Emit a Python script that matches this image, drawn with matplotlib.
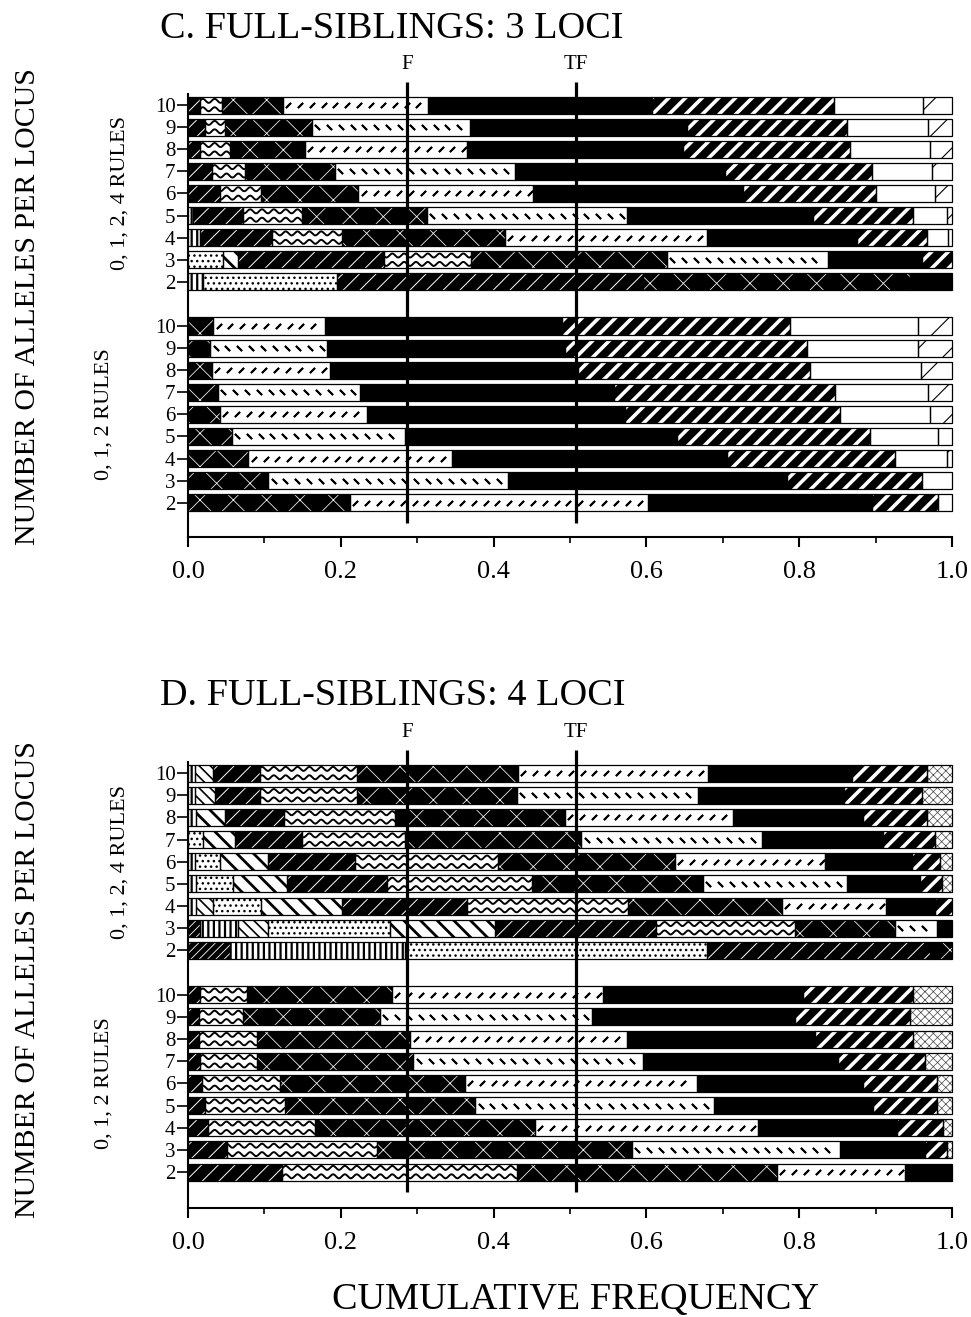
import numpy as np
import matplotlib
matplotlib.use('Agg')
from matplotlib import pyplot as plt
from matplotlib.transforms import blended_transform_factory

plt.rcParams['font.family'] = ['Liberation Serif', 'DejaVu Serif']

alleles = [10, 9, 8, 7, 6, 5, 4, 3, 2]
f_value = 0.287
tf_value = 0.508
xticks = [0.0, 0.2, 0.4, 0.6, 0.8, 1.0]

# pattern code of each segment, bar by bar (10 alleles down to 2),
# and the cumulative frequency at the right end of each segment
c4_codes = ['swxakheo', 'swxakheo', 'swxakheo', 'swxakheo', 'swxakheo',
            'vswxakheo', 'vswxakheo', 'dbswxakh', 'vdsxk']
c4_edges = [[0.016, 0.045, 0.124, 0.314, 0.607, 0.845, 0.962, 1.0],
            [0.022, 0.048, 0.162, 0.369, 0.653, 0.862, 0.969, 1.0],
            [0.016, 0.055, 0.153, 0.365, 0.648, 0.866, 0.971, 1.0],
            [0.031, 0.075, 0.192, 0.428, 0.703, 0.895, 0.974, 1.0],
            [0.042, 0.096, 0.223, 0.452, 0.727, 0.901, 0.978, 1.0],
            [0.007, 0.072, 0.149, 0.313, 0.574, 0.818, 0.949, 0.993, 1.0],
            [0.016, 0.110, 0.201, 0.415, 0.679, 0.876, 0.967, 0.995, 1.0],
            [0.046, 0.066, 0.256, 0.371, 0.627, 0.838, 0.961, 1.0],
            [0.020, 0.195, 0.596, 0.945, 1.0]]

c2_codes = ['xakheo', 'xakheo', 'xakheo', 'xakheo', 'xakheo',
            'xakheo', 'xakheo', 'xakhe', 'xakhe']
c2_edges = [[0.033, 0.179, 0.490, 0.788, 0.955, 1.0],
            [0.029, 0.182, 0.493, 0.810, 0.955, 1.0],
            [0.031, 0.186, 0.511, 0.814, 0.960, 1.0],
            [0.039, 0.225, 0.557, 0.847, 0.969, 1.0],
            [0.042, 0.234, 0.572, 0.853, 0.971, 1.0],
            [0.057, 0.284, 0.640, 0.893, 0.982, 1.0],
            [0.079, 0.345, 0.705, 0.925, 0.993, 1.0],
            [0.105, 0.419, 0.784, 0.961, 1.0],
            [0.212, 0.602, 0.895, 0.982, 1.0]]

d4_codes = ['vtswxakhc', 'vtswxakhc', 'vbswxakhc', 'dbswxakhc', 'vdbswxakhc',
            'vdbswxakhc', 'vtdbswxakh', 'fvtdbswxak', 'fvdsx']
d4_edges = [[0.009, 0.033, 0.094, 0.221, 0.432, 0.681, 0.869, 0.967, 1.0],
            [0.009, 0.035, 0.094, 0.221, 0.430, 0.668, 0.858, 0.961, 1.0],
            [0.011, 0.048, 0.125, 0.271, 0.493, 0.714, 0.884, 0.967, 1.0],
            [0.020, 0.061, 0.149, 0.284, 0.515, 0.751, 0.910, 0.978, 1.0],
            [0.009, 0.042, 0.105, 0.219, 0.406, 0.637, 0.834, 0.947, 0.984, 1.0],
            [0.011, 0.059, 0.129, 0.260, 0.450, 0.674, 0.862, 0.958, 0.987, 1.0],
            [0.011, 0.033, 0.096, 0.201, 0.365, 0.576, 0.777, 0.914, 0.978, 1.0],
            [0.016, 0.066, 0.105, 0.264, 0.402, 0.613, 0.795, 0.925, 0.980, 1.0],
            [0.055, 0.284, 0.679, 0.971, 1.0]]

d2_codes = ['swxakhc', 'swxakhc', 'swxakhc', 'swxakhc', 'swxakhc',
            'swxakhc', 'swxakhc', 'swxakhc', 'swxak']
d2_edges = [[0.016, 0.077, 0.267, 0.543, 0.805, 0.949, 1.0],
            [0.014, 0.072, 0.251, 0.529, 0.794, 0.945, 1.0],
            [0.014, 0.090, 0.291, 0.574, 0.821, 0.949, 1.0],
            [0.016, 0.090, 0.295, 0.596, 0.851, 0.965, 1.0],
            [0.018, 0.120, 0.362, 0.666, 0.884, 0.980, 1.0],
            [0.022, 0.127, 0.376, 0.688, 0.897, 0.980, 1.0],
            [0.026, 0.166, 0.454, 0.746, 0.928, 0.988, 1.0],
            [0.051, 0.247, 0.581, 0.853, 0.965, 0.993, 1.0],
            [0.123, 0.430, 0.771, 0.938, 1.0]]

BAR_H = 0.77

# face colour, hatch, hatch colour, hatch line width
styles = {
    'f': ('black', '////', 'white', 0.6),
    'v': ('white', '|||', 'black', 1.6),
    't': ('white', '\\\\\\', 'black', 1.2),
    'd': ('white', '...', 'black', 1.0),
    'b': ('white', '\\\\', 'black', 2.0),
    's': ('black', '//', 'white', 0.7),
    'w': ('white', None, 'white', 1.0),
    'x': ('black', 'x', 'white', 0.55),
    'a': ('white', None, 'white', 1.0),
    'k': ('black', None, 'black', 1.0),
    'h': ('black', '//', 'white', 2.6),
    'e': ('white', None, 'white', 1.0),
    'o': ('white', '/', 'black', 0.8),
    'c': ('white', 'xxxx', '#444444', 0.5),
}


def draw_segment(ax, y, left, width, code, row):
    face, hatch, hc, hlw = styles[code]
    with plt.rc_context({'hatch.linewidth': hlw, 'hatch.color': hc}):
        bars = ax.barh(y, width, left=left, height=BAR_H, color=face,
                       edgecolor=hc, linewidth=0, hatch=hatch, zorder=2)
    patch = bars[0]
    if hasattr(patch, 'set_hatch_linewidth'):
        patch.set_hatch_linewidth(hlw)
    if code == 'w':
        xs = np.linspace(left, left + width, max(int(width * 1500), 20))
        for off in (-0.19, 0.19):
            ys = y + off + 0.09 * np.sin(2 * np.pi * xs / 0.0155)
            ln, = ax.plot(xs, ys, color='black', lw=1.4, zorder=2.5)
            ln.set_clip_path(patch)
    if code == 'a':
        xs = np.arange(left + 0.007, left + width - 0.003, 0.0155)
        ang = 45 if row % 2 else 135
        ln, = ax.plot(xs, np.full(len(xs), y), ls='none',
                      marker=(2, 2, ang), ms=5, mew=1.4, color='black',
                      zorder=2.5)
        ln.set_clip_path(patch)
    ax.barh(y, width, left=left, height=BAR_H, fill=False,
            edgecolor='black', linewidth=0.9, zorder=3, clip_on=False)


def draw_panel(ax, top_codes, top_edges, bot_codes, bot_edges, ybottom, label_x):
    for i in range(len(alleles)):
        for base, codes, edges in ((18, top_codes, top_edges),
                                   (8, bot_codes, bot_edges)):
            y = base - i
            left = 0.0
            for code, right in zip(codes[i], edges[i]):
                draw_segment(ax, y, left, right - left, code, i)
                left = right

    for xv, lab in ((f_value, 'F'), (tf_value, 'TF')):
        ax.plot([xv, xv], [-0.9, 19.05], color='black', lw=2.3,
                clip_on=False, zorder=5, solid_capstyle='butt')
        ax.text(xv, 19.85, lab, ha='center', va='center', fontsize=15)

    ax.set_xlim(0, 1)
    ax.set_ylim(ybottom, 18.5)
    ax.set_xticks(xticks)
    ax.set_xticklabels(['%.1f' % t for t in xticks])
    ax.set_xticks(np.arange(0.1, 1.0, 0.2), minor=True)
    ypos = [18 - i for i in range(9)] + [8 - i for i in range(9)]
    ax.set_yticks(ypos)
    ax.set_yticklabels([str(a) for a in alleles] * 2)
    ax.tick_params(axis='y', direction='out', length=8, width=1.2,
                   labelsize=15, pad=1)
    ax.tick_params(axis='x', which='major', direction='out', length=7,
                   width=1.5, labelsize=19, pad=10)
    ax.tick_params(axis='x', which='minor', direction='out', length=4,
                   width=1.2)
    ax.spines['top'].set_visible(False)
    ax.spines['right'].set_visible(False)
    ax.spines['left'].set_linewidth(1.5)
    ax.spines['bottom'].set_linewidth(1.5)

    tr = blended_transform_factory(ax.figure.transFigure, ax.transData)
    ax.text(label_x[0], 14, '0, 1, 2, 4 RULES', rotation=90, ha='center',
            va='center', fontsize=16, transform=tr)
    ax.text(label_x[1], 4, '0, 1, 2 RULES', rotation=90, ha='center',
            va='center', fontsize=16, transform=tr)


fig = plt.figure(figsize=(9.71, 13.17), dpi=100)

ax_c = fig.add_axes([188 / 971, (1317 - 537) / 1317, 764 / 971, 443 / 1317])
draw_panel(ax_c, c4_codes, c4_edges, c2_codes, c2_edges, -1.55,
           (120 / 971, 104 / 971))

ax_d = fig.add_axes([188 / 971, (1317 - 1208) / 1317, 764 / 971, 446 / 1317])
draw_panel(ax_d, d4_codes, d4_edges, d2_codes, d2_edges, -1.62,
           (120 / 971, 104 / 971))

fig.text(160 / 971, 1 - 38 / 1317, 'C. FULL-SIBLINGS: 3 LOCI',
         fontsize=27.5, va='baseline', ha='left')
fig.text(160 / 971, 1 - 705 / 1317, 'D. FULL-SIBLINGS: 4 LOCI',
         fontsize=27.5, va='baseline', ha='left')

fig.text(28 / 971, 1 - 307 / 1317, 'NUMBER OF ALLELES PER LOCUS',
         rotation=90, ha='center', va='center', fontsize=21.5)
fig.text(28 / 971, 1 - 980 / 1317, 'NUMBER OF ALLELES PER LOCUS',
         rotation=90, ha='center', va='center', fontsize=21.5)

fig.text(575 / 971, 1 - 1300 / 1317, 'CUMULATIVE FREQUENCY',
         ha='center', va='center', fontsize=27.5)

fig.savefig('out.png', dpi=100)
